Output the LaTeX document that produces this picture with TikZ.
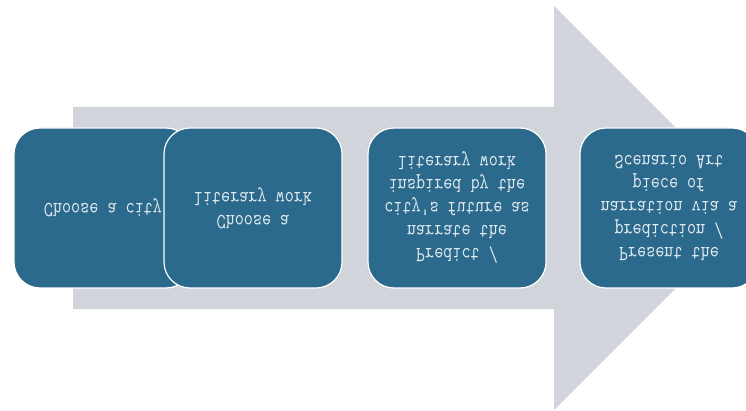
\documentclass[tikz,border=0pt]{standalone}
\usepackage{fontspec}
\newfontfamily\boxfont[FakeStretch=0.82]{Latin Modern Mono}

\definecolor{boxblue}{HTML}{2B6A8C}
\definecolor{arrowgray}{HTML}{D1D5DB}
\definecolor{boxtext}{HTML}{E4EBF0}

\tikzstyle{pbox}=[rectangle, rounded corners=26pt, draw=white, line width=1.2pt, fill=boxblue, minimum width=178pt, minimum height=160pt, inner sep=0pt, text=boxtext, align=center, font=\boxfont\fontsize{21.5}{23}\selectfont, transform shape]

\begin{document}
\begin{tikzpicture}[x=1pt,y=1pt,yscale=-1]
\useasboundingbox (0,0) rectangle (746,411);
\clip (0,0) rectangle (746,411);

\fill[arrowgray] (73,107) -- (554,107) -- (554,6) -- (756,208) -- (554,410) -- (554,309) -- (73,309) -- cycle;

\node[pbox] (c1) at (103,208) {Choose a city};
\node[pbox] (c2) at (253,208) {Choose a\\literary work};
\node[pbox] (c3) at (457,208) {Predict /\\narrate the\\city's future as\\inspired by the\\literary work};
\node[pbox] (c4) at (669,208) {Present the\\prediction /\\narration via a\\piece of\\Scenario Art};
\end{tikzpicture}
\end{document}
